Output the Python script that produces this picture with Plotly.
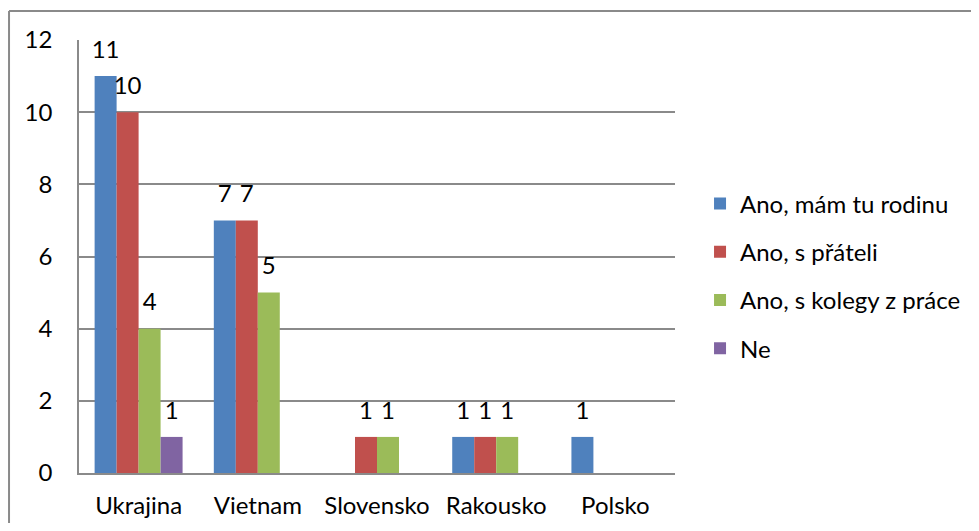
import plotly.graph_objects as go

countries = ["Ukrajina", "Vietnam", "Slovensko", "Rakousko", "Polsko"]

family = [11, 7, None, 1, 1]
friends = [10, 7, 1, 1, None]
colleagues = [4, 5, 1, 1, None]
no = [1, None, None, None, None]

series = [
    ("Ano, mám tu rodinu", family, "#4F81BD"),
    ("Ano, s přáteli", friends, "#C0504D"),
    ("Ano, s kolegy z práce", colleagues, "#9BBB59"),
    ("Ne", no, "#8064A2"),
]

font_name = "Lato"
fsize = 24
gap = 0.262

fig = go.Figure()
for name, values, color in series:
    fig.add_trace(go.Bar(
        x=countries, y=values, name=name, legendgroup=name,
        marker=dict(color=color, line=dict(width=0)),
    ))

# data labels: text-only scatter grouped like the bars, pushed up by an invisible marker
for name, values, color in series:
    fig.add_trace(go.Scatter(
        x=countries, y=values, mode="markers+text", showlegend=False,
        text=[str(v) if v is not None else "" for v in values],
        textposition="top center",
        textfont=dict(size=fsize, color="black", family=font_name),
        marker=dict(size=18, opacity=0),
        cliponaxis=False, hoverinfo="skip",
    ))

# outer chart border: only left and top edges are inside the picture
fig.add_shape(
    type="line", xref="paper", yref="paper",
    x0=-0.1174, x1=-0.1174, y0=-0.3, y1=1.067,
    line=dict(color="#8a8a8a", width=2),
)
fig.add_shape(
    type="line", xref="paper", yref="paper",
    x0=-0.1174, x1=1.7, y0=1.067, y1=1.067,
    line=dict(color="#8a8a8a", width=2),
)

# page body adds 8px on each side, keep figure inside the window so no scrollbars
fig.update_layout(
    width=963, height=515,
    margin=dict(l=71, r=296, t=32, b=50, autoexpand=False),
    paper_bgcolor="white", plot_bgcolor="white",
    font=dict(family=font_name, size=fsize, color="black"),
    barmode="group", bargap=gap, bargroupgap=0,
    scattermode="group", scattergap=gap,
    showlegend=True,
    legend=dict(
        x=1.042, xanchor="left", y=0.455, yanchor="middle",
        font=dict(size=fsize), tracegroupgap=14,
    ),
)

fig.update_yaxes(
    range=[0, 12], dtick=2, showgrid=True, gridcolor="#8a8a8a", gridwidth=1.5,
    showline=True, linecolor="#8a8a8a", linewidth=1.5, zeroline=False,
    ticks="", ticklabelstandoff=20, tickfont=dict(size=fsize), automargin=False,
)
fig.update_xaxes(
    showline=True, linecolor="#8a8a8a", linewidth=1.5, showgrid=False,
    ticks="", ticklabelstandoff=10, tickfont=dict(size=fsize), automargin=False,
)

fig.write_html("out.html")
